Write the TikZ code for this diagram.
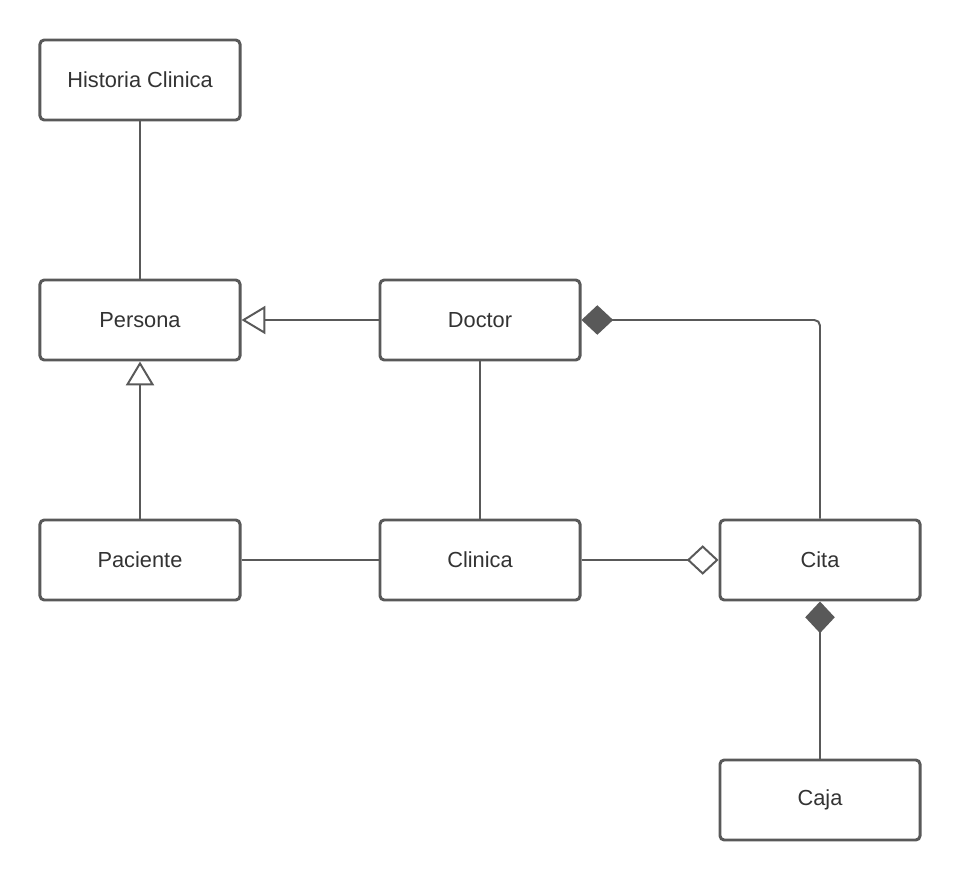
\documentclass[tikz,border=0pt]{standalone}
\usepackage{fontspec}
\setmainfont{Liberation Sans}
\usetikzlibrary{arrows.meta}
\definecolor{umlline}{RGB}{89,89,89}
\definecolor{umltext}{RGB}{51,51,51}

\tikzset{
  classbox/.style={draw=umlline,line width=2.1pt,rounded corners=3pt,fill=white,
    minimum width=5cm,minimum height=2cm,text=umltext,
    font=\fontsize{15.5}{18}\selectfont},
  link/.style={draw=umlline,line width=1.4pt},
  inherit/.style={link,-{Triangle[open,length=17pt,width=20pt,fill=white]}},
  aggreg/.style={link,-{Diamond[open,length=22.5pt,width=21pt,fill=white]}},
  compos/.style={link,-{Diamond[length=22.5pt,width=21pt,fill=umlline]}}
}

\begin{document}
\begin{tikzpicture}[x=0.025cm,y=-0.025cm]
  \useasboundingbox (0,0) rectangle (960,880);
  \node[classbox] (historia) at (140,80)  {Historia Clinica};
  \node[classbox] (persona)  at (140,320) {Persona};
  \node[classbox] (doctor)   at (480,320) {Doctor};
  \node[classbox] (paciente) at (140,560) {Paciente};
  \node[classbox] (clinica)  at (480,560) {Clinica};
  \node[classbox] (cita)     at (820,560) {Cita};
  \node[classbox] (caja)     at (820,800) {Caja};

  \draw[link] (historia) -- (persona);
  \draw[inherit] (doctor) -- (persona);
  \draw[inherit] (paciente) -- (persona);
  \draw[link] (doctor) -- (clinica);
  \draw[link] (paciente) -- (clinica);
  \draw[aggreg] (clinica) -- (cita);
  \draw[compos,rounded corners=4pt] (cita.north) |- (doctor.east);
  \draw[compos] (caja) -- (cita);
\end{tikzpicture}
\end{document}
